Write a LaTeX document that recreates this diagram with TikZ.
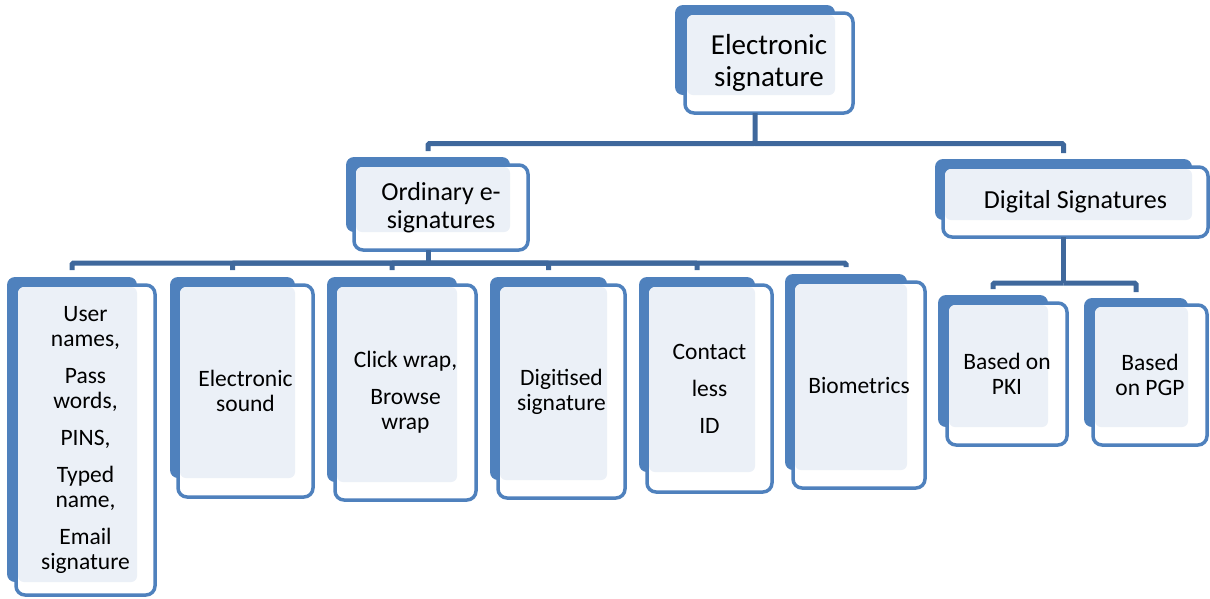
\documentclass[tikz,border=0pt]{standalone}
\usepackage{fontspec}
\setmainfont{Carlito}
\definecolor{backblue}{HTML}{4F81BD}
\definecolor{lightfill}{HTML}{EBF0F7}
\definecolor{connblue}{HTML}{3F689C}
\tikzset{
  backbox/.style={rectangle, fill=backblue, draw=none, rounded corners=8pt, inner sep=0pt, outer sep=0pt},
  frontbox/.style={rectangle, fill=white, draw=backblue, line width=3.5pt, rounded corners=9pt, inner sep=0pt, outer sep=0pt},
  lightarea/.style={fill=lightfill, rounded corners=6pt},
  conn/.style={draw=connblue, line width=5pt, rounded corners=1.5pt},
  lbl/.style={align=center, inner sep=0pt, text=black},
  bigtxt/.style={font=\fontsize{29}{32}\selectfont},
  midtxt/.style={font=\fontsize{26}{28}\selectfont},
  leaftxt/.style={font=\fontsize{23.5}{25}\selectfont},
}
% #1 name; #2-#5 back card corners; #6-#9 front card corners (pixel-like units, y down)
\newcommand\sigbox[9]{%
  \node[backbox, minimum width={(#4)-(#2)}, minimum height={(#5)-(#3)}]
    (#1-back) at ({((#2)+(#4))/2},{((#3)+(#5))/2}) {};
  \node[frontbox, minimum width={(#8)-(#6)}, minimum height={(#9)-(#7)}]
    (#1) at ({((#6)+(#8))/2},{((#7)+(#9))/2}) {};
  \fill[lightarea] ({(#6)+2},{(#7)+2}) rectangle (#4,#5);
}
\begin{document}
\begin{tikzpicture}[x=1pt,y=-1pt]
\useasboundingbox (0,0) rectangle (1210,598);

% root and second level
\sigbox{top}{675}{5}{835}{95}{685}{13}{853}{113}
\node[lbl, bigtxt] at (top) {Electronic\\signature};

\sigbox{ord}{346}{157}{510}{232}{354}{165}{528}{250}
\node[lbl, midtxt] at (ord) {Ordinary e-\\signatures};

\sigbox{dig}{935}{159}{1192}{220}{943}{167}{1208}{237}
\node[lbl, midtxt] at (dig) {Digital Signatures};

% ordinary e-signature kinds
\sigbox{b1}{7}{277}{137}{582}{16}{285}{155}{595}
\node[lbl, leaftxt] at (b1) {User\\names,\\[12pt]Pass\\words,\\[12pt]PINS,\\[12pt]Typed\\name,\\[12pt]Email\\signature};

\sigbox{b2}{170}{277}{295}{478}{178}{285}{313}{497}
\node[lbl, leaftxt] at (b2) {Electronic\\sound};

\sigbox{b3}{327}{277}{457}{482}{335}{285}{476}{500}
\node[lbl, leaftxt] at (b3) {Click wrap,\\[12pt]Browse\\wrap};

\sigbox{b4}{490}{277}{607}{480}{498}{285}{625}{498}
\node[lbl, leaftxt] at (b4) {Digitised\\signature};

\sigbox{b5}{639}{277}{755}{472}{647}{285}{772}{492}
\node[lbl, leaftxt] at (b5) {Contact\\[12pt]less\\[12pt]ID};

\sigbox{b6}{785}{274}{907}{470}{793}{282}{925}{488}
\node[lbl, leaftxt] at (b6) {Biometrics};

% digital signature kinds
\sigbox{pki}{938}{295}{1048}{427}{947}{303}{1067}{445}
\node[lbl, leaftxt] at (pki) {Based on\\PKI};

\sigbox{pgp}{1084}{298}{1188}{427}{1093}{305}{1207}{445}
\node[lbl, leaftxt] at (pgp) {Based\\on PGP};

% connectors
\coordinate (hubA) at (0,143.5);
\coordinate (hubB) at (0,263);
\coordinate (hubC) at (0,283);

\draw[conn] (top-back.south |- top.south) -- (top-back.south |- hubA) -| ([yshift=6pt]ord-back.north);
\draw[conn] (top-back.south |- hubA) -| ([yshift=6pt]dig-back.north);

\draw[conn] (ord-back.south |- ord.south) -- (ord-back.south |- hubB);
\foreach \n in {b1,b2,b3,b4,b5,b6}
  \draw[conn] (ord-back.south |- hubB) -| ([yshift=7pt]\n-back.north);

\draw[conn] (dig-back.south |- dig.south) -- (dig-back.south |- hubC);
\foreach \n in {pki,pgp}
  \draw[conn] (dig-back.south |- hubC) -| ([yshift=6pt]\n-back.north);
\end{tikzpicture}
\end{document}
